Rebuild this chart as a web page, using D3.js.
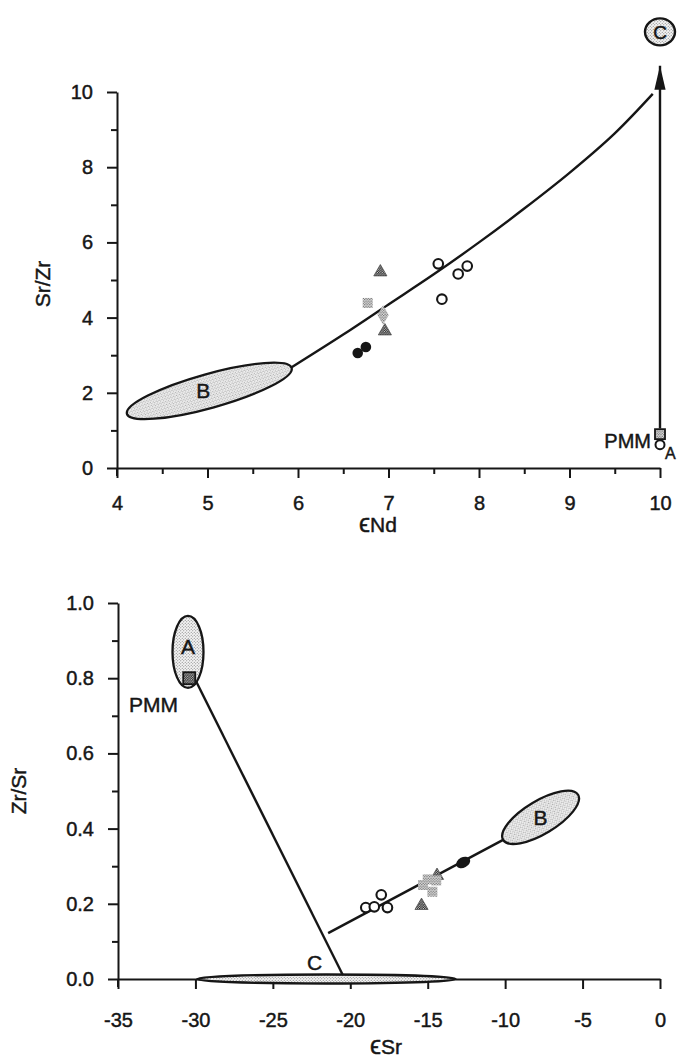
<!DOCTYPE html>
<html><head><meta charset="utf-8">
<script src="https://cdn.jsdelivr.net/npm/d3@7"></script>
<style>body{margin:0;background:#fff}svg{display:block}</style>
</head><body>
<svg id="c" width="678" height="1062"></svg>
<script>
// ---------- TOP PANEL DATA (x = eNd, y = Sr/Zr) ----------
const topXTicks = [4, 5, 6, 7, 8, 9, 10];
const topXMinor = [4.5, 5.5, 6.5, 7.5, 8.5, 9.5];
const topYTicks = [0, 2, 4, 6, 8, 10];
const topYMinor = [1, 3, 5, 7, 9];
const topCurve = [[5.93, 2.68], [6.5, 3.55], [7.0, 4.35], [7.5, 5.15], [8.0, 6.0], [8.5, 6.9], [9.0, 7.85], [9.5, 8.9], [9.92, 9.95]];
const topFilled = [[6.66, 3.06], [6.75, 3.22]];
const topOpen = [[7.55, 5.43], [7.59, 4.49], [7.77, 5.16], [7.87, 5.37]];
const topTriangles = [[6.91, 5.21], [6.96, 3.64]];
const topSquares = [[6.77, 4.39]];
const topDiamonds = [[6.94, 4.07]];
const topB = [[4.11, 1.44], [5.93, 2.66]];   // ellipse B end points
const topC = [10, 11.6];                       // end-member C
const topArrow = [[10, 1.05], [10, 10.7]];
const topPMMSquare = [10, 0.9];
const topPMMCircle = [10, 0.62];

// ---------- BOTTOM PANEL DATA (x = eSr, y = Zr/Sr) ----------
const botXTicks = [-35, -30, -25, -20, -15, -10, -5, 0];
const botYTicks = [0, 0.2, 0.4, 0.6, 0.8, 1.0];
const botYMinor = [0.1, 0.3, 0.5, 0.7, 0.9];
const botA = [-30.48, 0.87];
const botPMM = [-30.4, 0.80];
const botB = [[-10.13, 0.37], [-5.29, 0.49]];
const botC = [[-29.9, 0.0], [-13.2, 0.0]];
const botPMMtoC = [[-30.0, 0.795], [-20.5, 0.012]];
const botMixLine = [[-21.43, 0.122], [-10.13, 0.37]];
const botFilled = [[-12.71, 0.31]];
const botOpen = [[-19.0, 0.19], [-18.45, 0.192], [-18.0, 0.224], [-17.6, 0.19]];
const botSquares = [[-15.3, 0.25], [-14.7, 0.232], [-14.45, 0.262], [-15.0, 0.265]];
const botTriangles = [[-15.4, 0.195], [-14.4, 0.275]];

const svg = d3.select("#c");
const FONT = "'Liberation Sans', Arial, Helvetica, sans-serif";
const INK = "#161616";
const fmtHyphen = d => String(d).replace("\u2212", "-");

// patterns
const defs = svg.append("defs");
function stipple(id, size, r, color, bg) {
  const p = defs.append("pattern").attr("id", id).attr("patternUnits", "userSpaceOnUse")
    .attr("width", size).attr("height", size);
  p.append("rect").attr("width", size).attr("height", size).attr("fill", bg);
  p.append("circle").attr("cx", size / 4).attr("cy", size / 4).attr("r", r).attr("fill", color);
  p.append("circle").attr("cx", size * 3 / 4).attr("cy", size * 3 / 4).attr("r", r).attr("fill", color);
}
stipple("light", 3, 0.55, "#777", "#f4f4f4");
stipple("mid", 2.6, 0.7, "#666", "#e6e6e6");
stipple("dark", 2.4, 0.75, "#222", "#cfcfcf");

function txt(g, x, y, s, size, anchor) {
  return g.append("text").attr("x", x).attr("y", y).attr("text-anchor", anchor || "start")
    .attr("font-family", FONT).attr("font-size", size).attr("fill", INK)
    .attr("stroke", INK).attr("stroke-width", 0.45).text(s);
}

// ---------- TOP PANEL ----------
const x1 = d3.scaleLinear().domain([4, 10]).range([117, 660]);
const y1 = d3.scaleLinear().domain([0, 10]).range([468, 92]);
const g1 = svg.append("g");

function styleAxis(g) {
  g.selectAll("path.domain").attr("stroke", INK).attr("stroke-width", 2);
  g.selectAll(".tick line").attr("stroke", INK).attr("stroke-width", 2);
  g.selectAll("text").attr("font-family", FONT).attr("font-size", 20).attr("fill", INK)
    .attr("stroke", INK).attr("stroke-width", 0.45);
}
const ax1 = g1.append("g").attr("transform", `translate(0,${y1(0)})`)
  .call(d3.axisBottom(x1).tickValues(topXTicks).tickSize(10).tickSizeOuter(0).tickPadding(18).tickFormat(d3.format("d")));
styleAxis(ax1);
const ax1m = g1.append("g").attr("transform", `translate(0,${y1(0)})`)
  .call(d3.axisBottom(x1).tickValues(topXMinor).tickSize(6).tickSizeOuter(0).tickFormat(""));
styleAxis(ax1m); ax1m.select("path.domain").remove();
const ay1 = g1.append("g").attr("transform", `translate(${x1(4)},0)`)
  .call(d3.axisLeft(y1).tickValues(topYTicks).tickSize(10).tickSizeOuter(0).tickPadding(14).tickFormat(d3.format("d")));
styleAxis(ay1);
const ay1m = g1.append("g").attr("transform", `translate(${x1(4)},0)`)
  .call(d3.axisLeft(y1).tickValues(topYMinor).tickSize(6).tickSizeOuter(0).tickFormat(""));
styleAxis(ay1m); ay1m.select("path.domain").remove();
g1.append("line").attr("x1", x1(4)).attr("x2", x1(4)).attr("y1", y1(0)).attr("y2", y1(0) + 8).attr("stroke", INK).attr("stroke-width", 2);

g1.append("text").attr("transform", `translate(50,${(y1(4) + y1(6)) / 2 + 4}) rotate(-90)`)
  .attr("text-anchor", "middle").attr("font-family", FONT).attr("font-size", 21).attr("fill", INK)
  .attr("stroke", INK).attr("stroke-width", 0.45).text("Sr/Zr");
const xl1 = txt(g1, 378, 532, "", 21, "middle");
xl1.append("tspan").attr("font-size", 25).text("\u03F5");
xl1.append("tspan").text("Nd");

function ellipseBetween(g, p0, p1, sx, sy, minor, fillId) {
  const a = [sx(p0[0]), sy(p0[1])], b = [sx(p1[0]), sy(p1[1])];
  const cx = (a[0] + b[0]) / 2, cy = (a[1] + b[1]) / 2;
  const len = Math.hypot(b[0] - a[0], b[1] - a[1]) / 2;
  const ang = Math.atan2(b[1] - a[1], b[0] - a[0]) * 180 / Math.PI;
  g.append("ellipse").attr("cx", cx).attr("cy", cy).attr("rx", len).attr("ry", minor)
    .attr("transform", `rotate(${ang},${cx},${cy})`)
    .attr("fill", `url(#${fillId})`).attr("stroke", INK).attr("stroke-width", 2.3);
  return [cx, cy];
}
const line1 = d3.line().x(d => x1(d[0])).y(d => y1(d[1])).curve(d3.curveCatmullRom);
g1.append("path").attr("d", line1(topCurve)).attr("fill", "none").attr("stroke", INK).attr("stroke-width", 2.4);
const bc = ellipseBetween(g1, topB[0], topB[1], x1, y1, 17, "light");
txt(g1, bc[0] - 6, bc[1] + 7, "B", 21, "middle");

// arrow
defs.append("marker").attr("id", "arrow").attr("viewBox", "0 0 10 20").attr("refX", 10).attr("refY", 10)
  .attr("markerWidth", 24).attr("markerHeight", 14).attr("markerUnits", "userSpaceOnUse").attr("orient", "auto")
  .attr("preserveAspectRatio", "none")
  .append("path").attr("d", "M0,2 L10,10 L0,18 Z").attr("fill", INK);
g1.append("line").attr("x1", x1(topArrow[0][0])).attr("y1", y1(topArrow[0][1]))
  .attr("x2", x1(topArrow[1][0])).attr("y2", y1(topArrow[1][1]))
  .attr("stroke", INK).attr("stroke-width", 2.4).attr("marker-end", "url(#arrow)");
g1.append("ellipse").attr("cx", x1(topC[0])).attr("cy", y1(topC[1])).attr("rx", 15).attr("ry", 13.5)
  .attr("fill", "url(#light)").attr("stroke", INK).attr("stroke-width", 2.4);
txt(g1, x1(topC[0]), y1(topC[1]) + 7, "C", 19, "middle");

// PMM marker top
g1.append("rect").attr("x", x1(topPMMSquare[0]) - 5).attr("y", y1(topPMMSquare[1]) - 5).attr("width", 10).attr("height", 10)
  .attr("fill", "url(#mid)").attr("stroke", INK).attr("stroke-width", 1.8);
g1.append("circle").attr("cx", x1(topPMMCircle[0])).attr("cy", y1(topPMMCircle[1])).attr("r", 4.5)
  .attr("fill", "#fff").attr("stroke", INK).attr("stroke-width", 2);
txt(g1, x1(10) - 9, y1(topPMMCircle[1]) + 3, "PMM", 20, "end");
txt(g1, x1(10) + 5, y1(topPMMCircle[1]) + 14, "A", 16, "start");

// markers
function drawMarkers(g, sx, sy, filled, open, tris, squares, diamonds) {
  g.selectAll(null).data(filled).join("circle").attr("cx", d => sx(d[0])).attr("cy", d => sy(d[1])).attr("r", 5.3).attr("fill", INK);
  g.selectAll(null).data(open).join("circle").attr("cx", d => sx(d[0])).attr("cy", d => sy(d[1])).attr("r", 4.8)
    .attr("fill", "#fff").attr("stroke", INK).attr("stroke-width", 2.1);
  const tri = d3.symbol().type(d3.symbolTriangle).size(75);
  g.selectAll(null).data(tris).join("path").attr("d", tri).attr("transform", d => `translate(${sx(d[0])},${sy(d[1])})`)
    .attr("fill", "url(#dark)").attr("stroke", "#444").attr("stroke-width", 0.7);
  g.selectAll(null).data(squares).join("rect").attr("x", d => sx(d[0]) - 5).attr("y", d => sy(d[1]) - 5)
    .attr("width", 10).attr("height", 10).attr("fill", "url(#mid)");
  const dia = d3.symbol().type(d3.symbolDiamond).size(110);
  g.selectAll(null).data(diamonds).join("path").attr("d", dia).attr("transform", d => `translate(${sx(d[0])},${sy(d[1])})`)
    .attr("fill", "url(#mid)");
}
drawMarkers(g1, x1, y1, topFilled, topOpen, topTriangles, topSquares, topDiamonds);

// ---------- BOTTOM PANEL ----------
const x2 = d3.scaleLinear().domain([-35, 0]).range([118, 660]);
const y2 = d3.scaleLinear().domain([0, 1]).range([979, 603]);
const g2 = svg.append("g");
const ax2 = g2.append("g").attr("transform", `translate(0,${y2(0)})`)
  .call(d3.axisBottom(x2).tickValues(botXTicks).tickSize(10).tickSizeOuter(0).tickPadding(24).tickFormat(d => fmtHyphen(d3.format("d")(d))));
styleAxis(ax2);
const ay2 = g2.append("g").attr("transform", `translate(${x2(-35)},0)`)
  .call(d3.axisLeft(y2).tickValues(botYTicks).tickSize(10).tickSizeOuter(0).tickPadding(14).tickFormat(d3.format(".1f")));
styleAxis(ay2);
const ay2m = g2.append("g").attr("transform", `translate(${x2(-35)},0)`)
  .call(d3.axisLeft(y2).tickValues(botYMinor).tickSize(6).tickSizeOuter(0).tickFormat(""));
styleAxis(ay2m); ay2m.select("path.domain").remove();
g2.append("line").attr("x1", x2(-35)).attr("x2", x2(-35)).attr("y1", y2(0)).attr("y2", y2(0) + 8).attr("stroke", INK).attr("stroke-width", 2);

g2.append("text").attr("transform", `translate(26,${(y2(0.4) + y2(0.6)) / 2}) rotate(-90)`)
  .attr("text-anchor", "middle").attr("font-family", FONT).attr("font-size", 21).attr("fill", INK)
  .attr("stroke", INK).attr("stroke-width", 0.45).text("Zr/Sr");
const xl2 = txt(g2, 386, 1054, "", 21, "middle");
xl2.append("tspan").attr("font-size", 25).text("\u03F5");
xl2.append("tspan").text("Sr");

// C ellipse on axis
ellipseBetween(g2, botC[0], botC[1], x2, y2, 4.5, "light");
txt(g2, x2(-22.3), y2(0.012) - 4, "C", 21, "middle");

const line2 = d3.line().x(d => x2(d[0])).y(d => y2(d[1]));
g2.append("path").attr("d", line2(botPMMtoC)).attr("fill", "none").attr("stroke", INK).attr("stroke-width", 2.4);
g2.append("path").attr("d", line2(botMixLine)).attr("fill", "none").attr("stroke", INK).attr("stroke-width", 2.4);

// A ellipse
g2.append("ellipse").attr("cx", x2(botA[0])).attr("cy", y2(botA[1])).attr("rx", 15.5).attr("ry", 36)
  .attr("fill", "url(#light)").attr("stroke", INK).attr("stroke-width", 2.3);
txt(g2, x2(botA[0]), y2(botA[1]) + 2, "A", 21, "middle");
g2.append("rect").attr("x", x2(botPMM[0]) - 6).attr("y", y2(botPMM[1]) - 6).attr("width", 12).attr("height", 12)
  .attr("fill", "url(#dark)").attr("stroke", INK).attr("stroke-width", 1.8);
txt(g2, 129, y2(botPMM[1]) + 34, "PMM", 21, "start");

// B ellipse
const bb = ellipseBetween(g2, botB[0], botB[1], x2, y2, 16.5, "light");
txt(g2, bb[0], bb[1] + 8, "B", 21, "middle");

// filled ellipse marker (elongated)
g2.selectAll(null).data(botFilled).join("ellipse").attr("cx", d => x2(d[0])).attr("cy", d => y2(d[1]))
  .attr("rx", 7.5).attr("ry", 5.2).attr("transform", d => `rotate(-28,${x2(d[0])},${y2(d[1])})`).attr("fill", INK);
drawMarkers(g2, x2, y2, [], botOpen, botTriangles, botSquares, []);
</script>
</body></html>
